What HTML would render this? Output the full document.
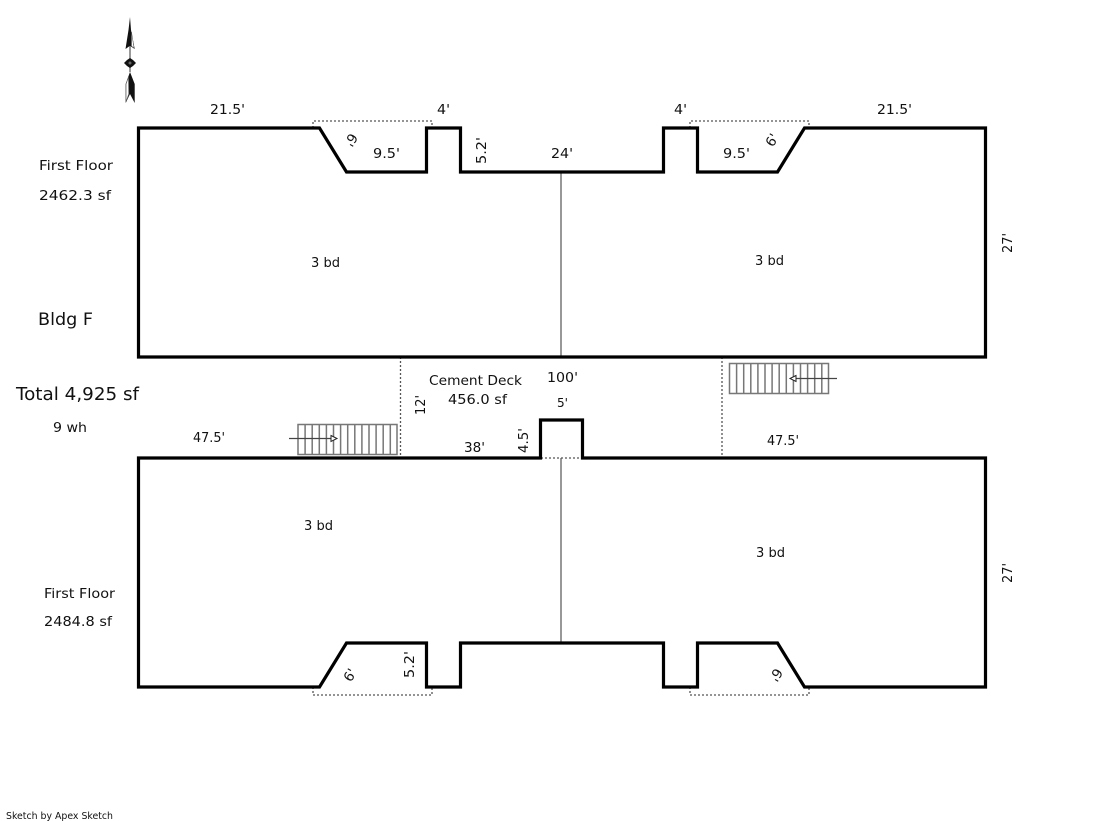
<!DOCTYPE html>
<html><head><meta charset="utf-8"><style>
html,body{margin:0;padding:0;background:#fff}
svg{display:block}
text{font-family:"DejaVu Sans","Liberation Sans",sans-serif;font-size:13.5px;fill:#111}
</style></head><body>
<svg width="1119" height="821" viewBox="0 0 1119 821" xmlns="http://www.w3.org/2000/svg">
<g fill="none">
<path stroke="#777" stroke-width="1.500" d="M561 172V357M561 458V643"/>
<path stroke="#555" stroke-dasharray="2 2" stroke-width="1.300" d="M313 128V121H432V128M690 128V121H809V128M313 687V695H432V687M690 687V695H809V687M400.500 357V458M722 357V458M541 458H582"/>
<path stroke="#777" stroke-width="1.500" d="M298 424.500H397V454.500H298ZM305.100 424.500V454.500M312.200 424.500V454.500M319.300 424.500V454.500M326.400 424.500V454.500M333.500 424.500V454.500M340.600 424.500V454.500M347.700 424.500V454.500M354.800 424.500V454.500M361.900 424.500V454.500M369 424.500V454.500M376.100 424.500V454.500M383.200 424.500V454.500M390.300 424.500V454.500"/>
<path stroke="#777" stroke-width="1.500" d="M729.500 363.500H828.500V393.500H729.500ZM736.600 363.500V393.500M743.700 363.500V393.500M750.800 363.500V393.500M757.900 363.500V393.500M765 363.500V393.500M772.100 363.500V393.500M779.200 363.500V393.500M786.300 363.500V393.500M793.400 363.500V393.500M800.500 363.500V393.500M807.600 363.500V393.500M814.700 363.500V393.500M821.800 363.500V393.500"/>
<path stroke="#444" stroke-width="1.200" d="M289 438.500H331M837 378.500H796"/>
<path stroke="#222" fill="#fff" d="M331 435.500L337 438.500L331 441.500ZM796 375.500L790 378.500L796 381.500Z"/>
</g>
<g fill="none" stroke="#000" stroke-width="3.200" stroke-linejoin="miter" transform="translate(.5,0)">
<path d="M138 128H319L346 172H426V128H460V172H663V128H697V172H777L804 128H985V357H138Z"/>
<path d="M138 458H540V420H582V458H985V687H804L777 643H697V687H663V643H460V687H426V643H346L319 687H138Z"/>
</g>
<!-- compass -->
<g>
<path d="M130 17L131 30L134.700 49L131 46.500H129L125.500 49L128.500 30Z" fill="#111"/>
<path d="M131.500 32L134 48L131.500 46Z" fill="#fff" stroke="#555" stroke-width=".5"/>
<path d="M130 46V72" stroke="#777" stroke-width="1.500"/>
<path d="M130 58L133 60L136 63L133 66L130 68L127 66L124 63L127 60Z" fill="#111"/>
<circle cx="130" cy="63" r="1.500" fill="#666"/>
<path d="M130 72L134.700 84V103L130 94L125.700 103V84Z" fill="#111"/>
<path d="M128.500 77L126 84V102L128.800 94Z" fill="#fff" stroke="#555" stroke-width=".7"/>
</g>
<text x="210" y="114" textLength="35" lengthAdjust="spacingAndGlyphs">21.5'</text>
<text x="437" y="114" textLength="13" lengthAdjust="spacingAndGlyphs">4'</text>
<text x="674" y="114" textLength="13" lengthAdjust="spacingAndGlyphs">4'</text>
<text x="877" y="114" textLength="35" lengthAdjust="spacingAndGlyphs">21.5'</text>
<text x="373" y="158" textLength="27" lengthAdjust="spacingAndGlyphs">9.5'</text>
<text x="723" y="158" textLength="27" lengthAdjust="spacingAndGlyphs">9.5'</text>
<text x="551" y="158" textLength="22" lengthAdjust="spacingAndGlyphs">24'</text>
<text transform="translate(486,164) rotate(-90)" textLength="27" lengthAdjust="spacingAndGlyphs">5.2'</text>
<text transform="translate(351,140) rotate(120)" text-anchor="middle" dy=".35em">6'</text>
<text transform="translate(772,140) rotate(-60)" text-anchor="middle" dy=".35em">6'</text>
<text x="39" y="170" textLength="74" lengthAdjust="spacingAndGlyphs">First Floor</text>
<text x="39" y="200" textLength="72" lengthAdjust="spacingAndGlyphs">2462.3 sf</text>
<text x="311" y="267" textLength="29" lengthAdjust="spacingAndGlyphs">3 bd</text>
<text x="755" y="265" textLength="29" lengthAdjust="spacingAndGlyphs">3 bd</text>
<text transform="translate(1012,253) rotate(-90)" textLength="20" lengthAdjust="spacingAndGlyphs">27'</text>
<text x="38" y="325" style="font-size:17px" textLength="55" lengthAdjust="spacingAndGlyphs">Bldg F</text>
<text x="16" y="400" style="font-size:18px" textLength="123" lengthAdjust="spacingAndGlyphs">Total 4,925 sf</text>
<text x="53" y="432" textLength="34" lengthAdjust="spacingAndGlyphs">9 wh</text>
<text x="429" y="385" textLength="93" lengthAdjust="spacingAndGlyphs">Cement Deck</text>
<text x="448" y="404" textLength="59" lengthAdjust="spacingAndGlyphs">456.0 sf</text>
<text x="547" y="382" textLength="31" lengthAdjust="spacingAndGlyphs">100'</text>
<text x="557" y="407" style="font-size:12.500px" textLength="11" lengthAdjust="spacingAndGlyphs">5'</text>
<text transform="translate(425,415) rotate(-90)" textLength="20" lengthAdjust="spacingAndGlyphs">12'</text>
<text x="193" y="442" textLength="32" lengthAdjust="spacingAndGlyphs">47.5'</text>
<text x="767" y="445" textLength="32" lengthAdjust="spacingAndGlyphs">47.5'</text>
<text x="464" y="452" textLength="21" lengthAdjust="spacingAndGlyphs">38'</text>
<text transform="translate(528,453) rotate(-90)" textLength="25" lengthAdjust="spacingAndGlyphs">4.5'</text>
<text x="304" y="530" textLength="29" lengthAdjust="spacingAndGlyphs">3 bd</text>
<text x="756" y="557" textLength="29" lengthAdjust="spacingAndGlyphs">3 bd</text>
<text transform="translate(1012,583) rotate(-90)" textLength="20" lengthAdjust="spacingAndGlyphs">27'</text>
<text x="44" y="598" textLength="71" lengthAdjust="spacingAndGlyphs">First Floor</text>
<text x="44" y="626" textLength="68" lengthAdjust="spacingAndGlyphs">2484.8 sf</text>
<text transform="translate(350,675) rotate(-60)" text-anchor="middle" dy=".35em">6'</text>
<text transform="translate(414,678) rotate(-90)" textLength="27" lengthAdjust="spacingAndGlyphs">5.2'</text>
<text transform="translate(776,675) rotate(120)" text-anchor="middle" dy=".35em">6'</text>
<text x="6" y="819" style="font-size:10px" textLength="107" lengthAdjust="spacingAndGlyphs">Sketch by Apex Sketch</text>
</svg>
</body></html>
